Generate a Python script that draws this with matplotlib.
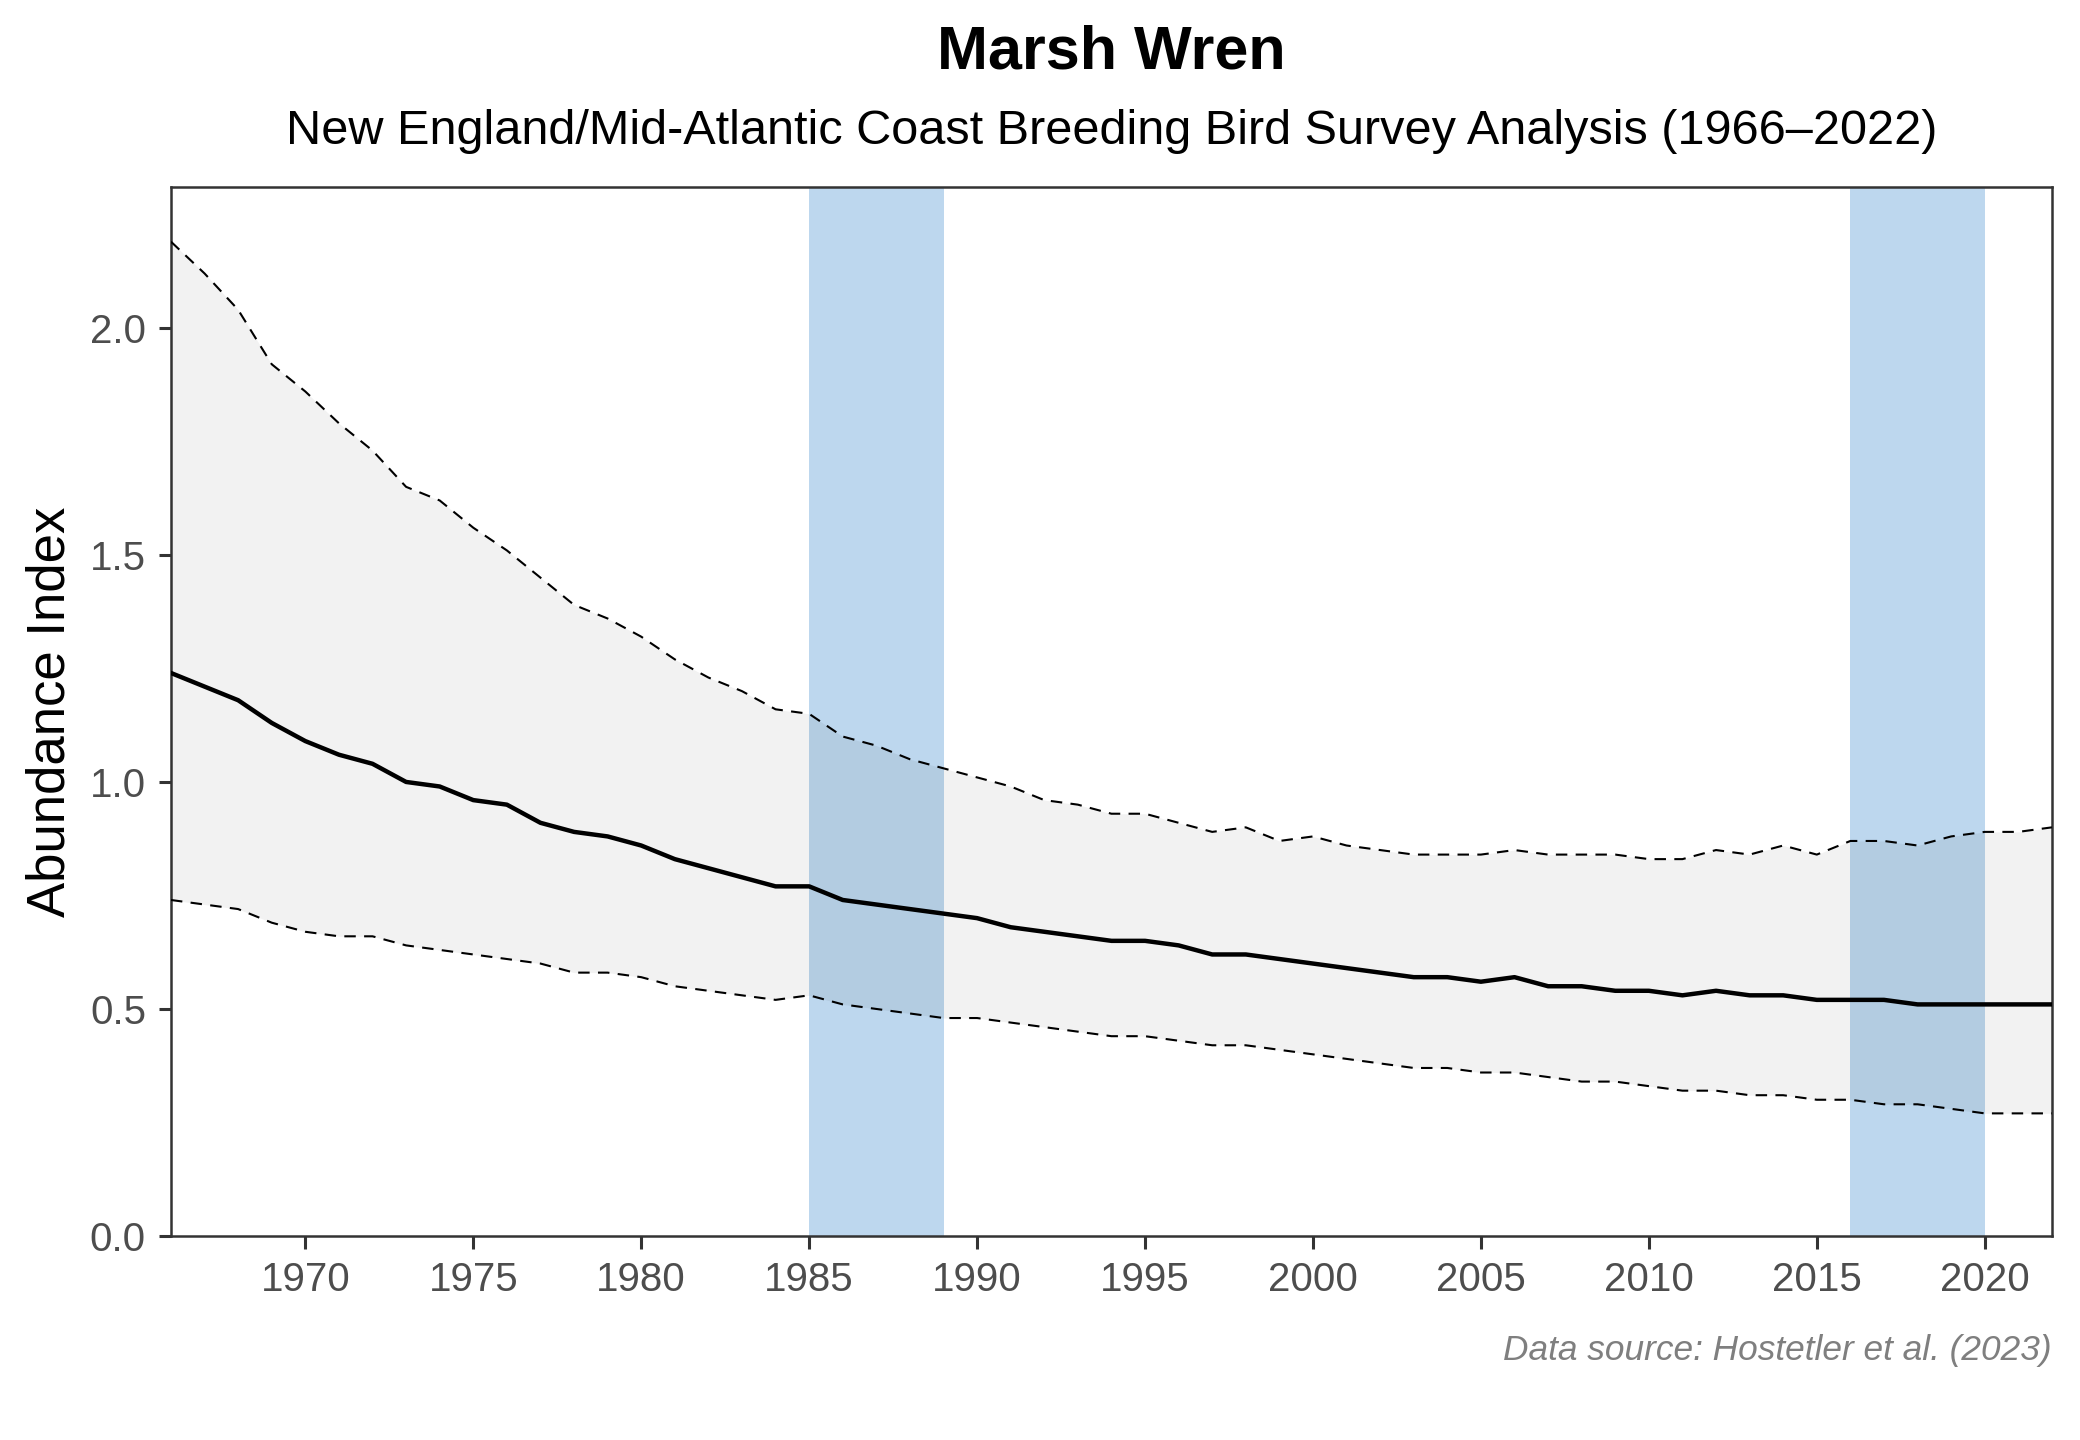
import matplotlib
matplotlib.use('Agg')
import matplotlib.pyplot as plt
import numpy as np

years = np.arange(1966, 2023)

index_mean = [1.24, 1.21, 1.18, 1.13, 1.09, 1.06, 1.04, 1.00, 0.99, 0.96,
              0.95, 0.91, 0.89, 0.88, 0.86, 0.83, 0.81, 0.79, 0.77, 0.77,
              0.74, 0.73, 0.72, 0.71, 0.70, 0.68, 0.67, 0.66, 0.65, 0.65,
              0.64, 0.62, 0.62, 0.61, 0.60, 0.59, 0.58, 0.57, 0.57, 0.56,
              0.57, 0.55, 0.55, 0.54, 0.54, 0.53, 0.54, 0.53, 0.53, 0.52,
              0.52, 0.52, 0.51, 0.51, 0.51, 0.51, 0.51]

index_upper = [2.19, 2.12, 2.04, 1.92, 1.86, 1.79, 1.73, 1.65, 1.62, 1.56,
               1.51, 1.45, 1.39, 1.36, 1.32, 1.27, 1.23, 1.20, 1.16, 1.15,
               1.10, 1.08, 1.05, 1.03, 1.01, 0.99, 0.96, 0.95, 0.93, 0.93,
               0.91, 0.89, 0.90, 0.87, 0.88, 0.86, 0.85, 0.84, 0.84, 0.84,
               0.85, 0.84, 0.84, 0.84, 0.83, 0.83, 0.85, 0.84, 0.86, 0.84,
               0.87, 0.87, 0.86, 0.88, 0.89, 0.89, 0.90]

index_lower = [0.74, 0.73, 0.72, 0.69, 0.67, 0.66, 0.66, 0.64, 0.63, 0.62,
               0.61, 0.60, 0.58, 0.58, 0.57, 0.55, 0.54, 0.53, 0.52, 0.53,
               0.51, 0.50, 0.49, 0.48, 0.48, 0.47, 0.46, 0.45, 0.44, 0.44,
               0.43, 0.42, 0.42, 0.41, 0.40, 0.39, 0.38, 0.37, 0.37, 0.36,
               0.36, 0.35, 0.34, 0.34, 0.33, 0.32, 0.32, 0.31, 0.31, 0.30,
               0.30, 0.29, 0.29, 0.28, 0.27, 0.27, 0.27]

# highlighted periods
periods = [(1985, 1989), (2016, 2020)]

plt.rcParams['font.family'] = ['Liberation Sans', 'DejaVu Sans']

fig = plt.figure(figsize=(10.4, 7.2), dpi=200)
ax = fig.add_axes([0.0822, 0.1417, 0.9043, 0.7283])

for start, end in periods:
    ax.axvspan(start, end, color='#BDD7EE', lw=0, zorder=1)

ax.fill_between(years, index_lower, index_upper, color='black', alpha=0.05, lw=0, zorder=2)
ax.plot(years, index_upper, color='black', lw=0.75, linestyle=(0, (5.5, 4)), zorder=3)
ax.plot(years, index_lower, color='black', lw=0.75, linestyle=(0, (5.5, 4)), zorder=3)
ax.plot(years, index_mean, color='black', lw=1.6, zorder=4)

ax.set_xlim(1966, 2022)
ax.set_ylim(0, 2.31)
ax.set_xticks(np.arange(1970, 2021, 5))
ax.set_yticks([0.0, 0.5, 1.0, 1.5, 2.0])
ax.set_yticklabels(['0.0', '0.5', '1.0', '1.5', '2.0'])

for s in ax.spines.values():
    s.set_color('#333333')
    s.set_linewidth(0.9)
ax.tick_params(axis='both', colors='#333333', length=4.5, width=1.1, labelsize=14.5,
               labelcolor='#4D4D4D', pad=4.5)

ax.set_ylabel('Abundance Index', fontsize=19, color='black')
ax.yaxis.set_label_coords(-0.0505, 0.5)

cx = 0.0822 + 0.9043 / 2
fig.text(cx, 0.963, 'Marsh Wren', ha='center', va='center', fontsize=22, fontweight='bold')
fig.text(cx, 0.909, 'New England/Mid-Atlantic Coast Breeding Bird Survey Analysis (1966\u20132022)',
         ha='center', va='center', fontsize=17.5)
fig.text(0.9865, 0.062, 'Data source: Hostetler et al. (2023)', ha='right', va='center',
         fontsize=12.7, style='italic', color='#7F7F7F')

fig.savefig('out.png', dpi=200)
